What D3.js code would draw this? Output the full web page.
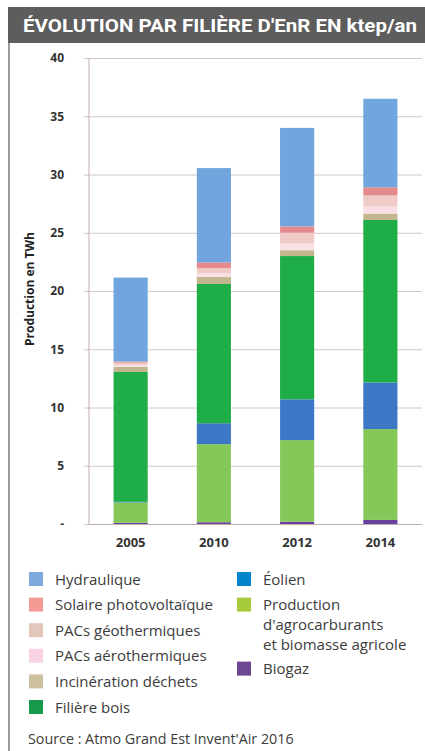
<!DOCTYPE html>
<html>
<head>
<meta charset="utf-8">
<script src="https://cdn.jsdelivr.net/npm/d3@7"></script>
<style>
  html, body { margin: 0; padding: 0; background: #fff; }
  svg { display: block; }
</style>
</head>
<body>
<div id="chart"></div>
<script>
// données (TWh)
const years = ["2005", "2010", "2012", "2014"]
const biogaz = [0.1, 0.15, 0.2, 0.35]
const agro = [1.75, 6.7, 7.0, 7.8]
const eolien = [0.05, 1.8, 3.5, 4.0]
const bois = [11.15, 11.95, 12.3, 13.95]
const incineration = [0.45, 0.6, 0.5, 0.55]
const pacAero = [0.15, 0.3, 0.6, 0.6]
const pacGeo = [0.2, 0.45, 0.9, 0.95]
const solaire = [0.1, 0.5, 0.55, 0.7]
const hydraulique = [7.2, 8.1, 8.45, 7.6]

const yTicks = [0, 5, 10, 15, 20, 25, 30, 35, 40]
const yTickLabels = ["-", "5", "10", "15", "20", "25", "30", "35", "40"]

// ordre d'empilement (du bas vers le haut)
const keys = ["biogaz", "agro", "eolien", "bois", "incineration", "pacAero", "pacGeo", "solaire", "hydraulique"]
const seriesValues = { biogaz, agro, eolien, bois, incineration, pacAero, pacGeo, solaire, hydraulique }

const barColors = {
  hydraulique: "#70a5dd", solaire: "#e58a8c", pacGeo: "#efcac6", pacAero: "#f8e0e6",
  incineration: "#c2b78c", bois: "#1fad48", eolien: "#3d78c6", agro: "#86c75a", biogaz: "#6a3fa0"
}
const legendColors = {
  hydraulique: "#7ca8dc", solaire: "#f39a95", pacGeo: "#e3c7bd", pacAero: "#f9d3e5",
  incineration: "#cdc09c", bois: "#16994a", eolien: "#0085ca", agro: "#a6cb3a", biogaz: "#6d4792"
}

// légende en deux colonnes
const legendLeft = [
  { key: "hydraulique", lines: ["Hydraulique"] },
  { key: "solaire", lines: ["Solaire photovoltaïque"] },
  { key: "pacGeo", lines: ["PACs géothermiques"] },
  { key: "pacAero", lines: ["PACs aérothermiques"] },
  { key: "incineration", lines: ["Incinération déchets"] },
  { key: "bois", lines: ["Filière bois"] }
]
const legendRight = [
  { key: "eolien", lines: ["Éolien"], row: 0 },
  { key: "agro", lines: ["Production", "d'agrocarburants", "et biomasse agricole"], row: 1 },
  { key: "biogaz", lines: ["Biogaz"], row: 3.5 }
]

const table = years.map((yr, i) => {
  const row = { year: yr }
  keys.forEach(k => row[k] = seriesValues[k][i])
  return row
})

const W = 425, H = 751
const margin = { top: 58, right: 3, bottom: 227, left: 89 }
const width = W - margin.left - margin.right
const height = H - margin.top - margin.bottom

const svg = d3.select("#chart").append("svg")
  .attr("width", W)
  .attr("height", H)

// bandeau du titre
svg.append("rect")
  .attr("x", 8).attr("y", 7)
  .attr("width", W - 8).attr("height", 36)
  .attr("fill", "#5d5d5d")

svg.append("text")
  .attr("x", 23).attr("y", 32)
  .attr("fill", "#fff")
  .style("font-family", "Roboto, sans-serif")
  .style("font-weight", "700")
  .style("font-size", "19px")
  .attr("textLength", 394)
  .attr("lengthAdjust", "spacingAndGlyphs")
  .text("ÉVOLUTION PAR FILIÈRE D'EnR EN ktep/an")

// filet vertical à gauche
svg.append("line")
  .attr("x1", 9).attr("x2", 9)
  .attr("y1", 43).attr("y2", H)
  .attr("stroke", "#7a7a7a")
  .attr("stroke-width", 1.5)

const g = svg.append("g")
  .attr("transform", "translate(" + margin.left + "," + margin.top + ")")

const x = d3.scaleBand()
  .domain(years)
  .range([0, width])
  .paddingInner(0.59)
  .paddingOuter(0.295)

const y = d3.scaleLinear()
  .domain([0, 40])
  .range([height, 0])

// grille + axe y
const yAxis = d3.axisLeft(y)
  .tickValues(yTicks)
  .tickSize(-width)
  .tickFormat((d, i) => yTickLabels[i])

g.append("g")
  .attr("class", "y axis")
  .call(yAxis)
  .call(a => a.select(".domain").remove())
  .call(a => a.selectAll(".tick line")
    .attr("x1", -5)
    .attr("stroke", "#d3c6c3"))
  .call(a => a.selectAll(".tick text")
    .attr("x", -25)
    .attr("fill", "#333")
    .style("font-family", "'Open Sans', sans-serif")
    .style("font-weight", "700")
    .style("font-size", "12px"))

g.append("line")
  .attr("x1", 0).attr("x2", 0)
  .attr("y1", y(40)).attr("y2", y(0))
  .attr("stroke", "#bfaeac")

// barres empilées
const stacked = d3.stack().keys(keys)(table)

g.selectAll(".serie")
  .data(stacked)
  .enter().append("g")
  .attr("class", "serie")
  .attr("fill", d => barColors[d.key])
  .selectAll("rect")
  .data(d => d)
  .enter().append("rect")
  .attr("x", d => x(d.data.year))
  .attr("y", d => y(d[1]))
  .attr("width", x.bandwidth())
  .attr("height", d => y(d[0]) - y(d[1]))

// axe x
const xAxis = d3.axisBottom(x).tickSize(0).tickPadding(14)

g.append("g")
  .attr("class", "x axis")
  .attr("transform", "translate(0," + height + ")")
  .call(xAxis)
  .call(a => a.select(".domain").attr("stroke", "#bfaeac"))
  .call(a => a.selectAll(".tick text")
    .attr("fill", "#333")
    .style("font-family", "'Open Sans', sans-serif")
    .style("font-weight", "700")
    .style("font-size", "13px"))

// titre de l'axe y
svg.append("text")
  .attr("transform", "translate(34,289) rotate(-90)")
  .attr("text-anchor", "middle")
  .attr("fill", "#222")
  .style("font-family", "'Open Sans', sans-serif")
  .style("font-weight", "700")
  .style("font-size", "12px")
  .text("Production en TWh")

// légende
const rowH = 25.6
const legendTop = 572

function drawLegend(items, xSq, getRow) {
  items.forEach((it, i) => {
    const r = getRow(it, i)
    const yy = legendTop + r * rowH
    svg.append("rect")
      .attr("x", xSq).attr("y", yy)
      .attr("width", 14).attr("height", 14)
      .attr("fill", legendColors[it.key])
    it.lines.forEach((ln, j) => {
      svg.append("text")
        .attr("x", xSq + 26)
        .attr("y", yy + 12.5 + j * 19.8)
        .attr("fill", "#3c3c3c")
        .style("font-family", "'Open Sans', sans-serif")
        .style("font-size", "15px")
        .text(ln)
    })
  })
}
drawLegend(legendLeft, 29, (it, i) => i)
drawLegend(legendRight, 237, it => it.row)

svg.append("text")
  .attr("x", 28).attr("y", 744)
  .attr("fill", "#3c3c3c")
  .style("font-family", "'Open Sans', sans-serif")
  .style("font-size", "14.3px")
  .text("Source : Atmo Grand Est Invent'Air 2016")
</script>
</body>
</html>
